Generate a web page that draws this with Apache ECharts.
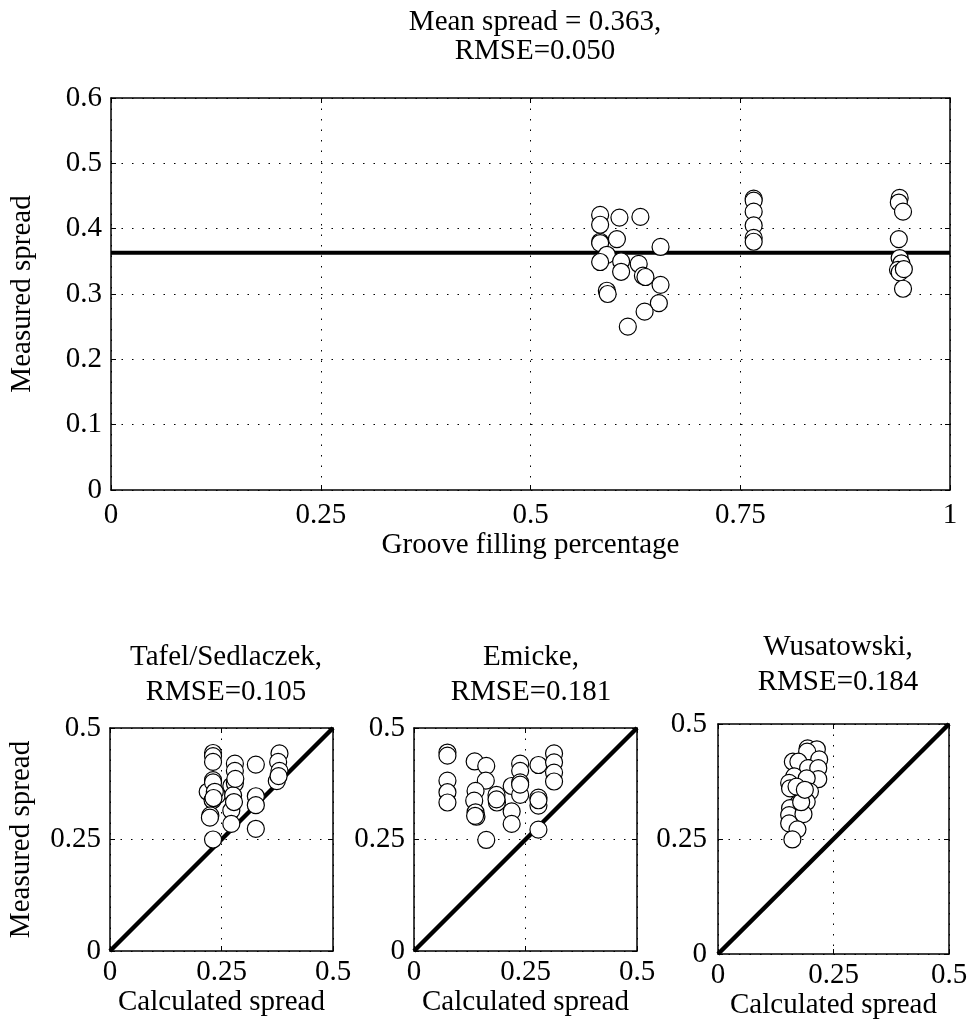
<!DOCTYPE html>
<html>
<head>
<meta charset="utf-8">
<script src="https://cdn.jsdelivr.net/npm/echarts@6/dist/echarts.min.js"></script>
<style>
  html, body { margin: 0; padding: 0; background: #fff; }
  #chart { width: 971px; height: 1030px; }
</style>
</head>
<body>
<div id="chart"></div>
<script>
// groove filling vs measured spread
const fillX = [0.583, 0.606, 0.631, 0.583, 0.583, 0.583, 0.603, 0.655, 0.591, 0.583, 0.608,
  0.608, 0.629, 0.634, 0.637, 0.655, 0.591, 0.592, 0.653, 0.636, 0.616,
  0.766, 0.766, 0.766, 0.766, 0.766, 0.766,
  0.940, 0.939, 0.944, 0.939, 0.940, 0.942, 0.938, 0.940, 0.945, 0.944];
const fillY = [0.421, 0.417, 0.418, 0.406, 0.380, 0.378, 0.384, 0.372, 0.360, 0.349, 0.350,
  0.334, 0.346, 0.328, 0.326, 0.314, 0.305, 0.300, 0.286, 0.273, 0.250,
  0.446, 0.443, 0.426, 0.405, 0.386, 0.380,
  0.447, 0.440, 0.426, 0.384, 0.355, 0.347, 0.337, 0.333, 0.338, 0.308];
const meanSpread = 0.363;

// Tafel/Sedlaczek
const tafelX = [0.231, 0.231, 0.231, 0.280, 0.280, 0.327, 0.380, 0.377, 0.380, 0.374, 0.231,
  0.272, 0.280, 0.219, 0.240, 0.230, 0.276, 0.327, 0.327, 0.225, 0.224, 0.272, 0.272,
  0.327, 0.231, 0.231, 0.235, 0.281, 0.378, 0.278, 0.232];
const tafelY = [0.444, 0.437, 0.424, 0.420, 0.404, 0.418, 0.443, 0.424, 0.404, 0.381, 0.383,
  0.370, 0.376, 0.357, 0.349, 0.338, 0.349, 0.347, 0.327, 0.304, 0.299, 0.315, 0.285,
  0.274, 0.250, 0.378, 0.357, 0.386, 0.392, 0.334, 0.343];

// Emicke
const emickeX = [0.075, 0.075, 0.075, 0.075, 0.075, 0.136, 0.162, 0.161, 0.138, 0.135, 0.138,
  0.140, 0.162, 0.185, 0.186, 0.219, 0.219, 0.219, 0.238, 0.238, 0.238, 0.238, 0.279,
  0.279, 0.279, 0.279, 0.314, 0.314, 0.314, 0.314, 0.185, 0.137, 0.238, 0.279];
const emickeY = [0.445, 0.438, 0.382, 0.356, 0.333, 0.425, 0.415, 0.382, 0.359, 0.337, 0.311,
  0.301, 0.249, 0.350, 0.333, 0.370, 0.313, 0.285, 0.420, 0.404, 0.378, 0.350, 0.417,
  0.344, 0.326, 0.272, 0.443, 0.423, 0.400, 0.380, 0.340, 0.303, 0.373, 0.338];

// Wusatowski
const wusaX = [0.194, 0.214, 0.193, 0.219, 0.162, 0.174, 0.195, 0.217, 0.165, 0.217, 0.154,
  0.192, 0.156, 0.199, 0.185, 0.192, 0.173, 0.156, 0.154, 0.185, 0.154, 0.172, 0.161,
  0.180, 0.170, 0.188];
const wusaY = [0.447, 0.445, 0.440, 0.423, 0.418, 0.418, 0.404, 0.404, 0.386, 0.380, 0.372,
  0.382, 0.360, 0.353, 0.342, 0.331, 0.326, 0.317, 0.302, 0.304, 0.284, 0.271, 0.249,
  0.330, 0.364, 0.357];

const titles = ['Mean spread = 0.363,\nRMSE=0.050', 'Tafel/Sedlaczek,\nRMSE=0.105',
  'Emicke,\nRMSE=0.181', 'Wusatowski,\nRMSE=0.184'];

const font = 'Liberation Serif';
const fs = 29;

const zip = (xs, ys) => xs.map((x, i) => [x, ys[i]]);

const grids = [
  { left: 110, top: 98, width: 840, height: 392 },
  { left: 110, top: 728, width: 223, height: 223 },
  { left: 414, top: 728, width: 223, height: 223 },
  { left: 718, top: 724, width: 231, height: 230 }
];

function mainAxis(gridIndex, min, max, interval, name, nameGap, margin) {
  return {
    gridIndex, min, max, interval, type: 'value',
    name, nameLocation: 'middle', nameGap,
    nameTextStyle: { fontFamily: font, fontSize: fs, color: '#000' },
    axisLine: { show: true, onZero: false, lineStyle: { color: '#000', width: 1.5 } },
    axisTick: { show: true, inside: true, length: 5, lineStyle: { color: '#000' } },
    axisLabel: { fontFamily: font, fontSize: fs, color: '#000', margin },
    splitLine: { show: true, lineStyle: { color: '#000', width: 1, type: [1.5, 9] } }
  };
}

function boxAxis(gridIndex, min, max, interval, position) {
  return {
    gridIndex, min, max, interval, type: 'value', position,
    axisLine: { show: true, onZero: false, lineStyle: { color: '#000', width: 1.5 } },
    axisTick: { show: true, inside: true, length: 5, lineStyle: { color: '#000' } },
    axisLabel: { show: false },
    splitLine: { show: false }
  };
}

const xAxis = [
  mainAxis(0, 0, 1, 0.25, 'Groove filling percentage', 40, 11), boxAxis(0, 0, 1, 0.25, 'top'),
  mainAxis(1, 0, 0.5, 0.25, 'Calculated spread', 36, 7), boxAxis(1, 0, 0.5, 0.25, 'top'),
  mainAxis(2, 0, 0.5, 0.25, 'Calculated spread', 36, 7), boxAxis(2, 0, 0.5, 0.25, 'top'),
  mainAxis(3, 0, 0.5, 0.25, 'Calculated spread', 36, 7), boxAxis(3, 0, 0.5, 0.25, 'top')
];
const yAxis = [
  mainAxis(0, 0, 0.6, 0.1, 'Measured spread', 74, 9), boxAxis(0, 0, 0.6, 0.1, 'right'),
  mainAxis(1, 0, 0.5, 0.25, 'Measured spread', 74, 9), boxAxis(1, 0, 0.5, 0.25, 'right'),
  mainAxis(2, 0, 0.5, 0.25, '', 74, 9), boxAxis(2, 0, 0.5, 0.25, 'right'),
  mainAxis(3, 0, 0.5, 0.25, '', 74, 11), boxAxis(3, 0, 0.5, 0.25, 'right')
];

function dots(i, data) {
  return {
    type: 'scatter', xAxisIndex: i * 2, yAxisIndex: i * 2, data, z: 3,
    symbol: 'circle', symbolSize: 17, silent: true,
    itemStyle: { color: '#fff', borderColor: '#000', borderWidth: 1.2, opacity: 1 }
  };
}
function thick(i, data, width) {
  return {
    type: 'line', xAxisIndex: i * 2, yAxisIndex: i * 2, data, z: 2,
    showSymbol: false, symbol: 'none', silent: true,
    lineStyle: { color: '#000', width }
  };
}

const option = {
  animation: false,
  backgroundColor: '#fff',
  title: [
    { text: titles[0], left: 530, top: 3, textAlign: 'center' },
    { text: titles[1], left: 221, top: 635, textAlign: 'center' },
    { text: titles[2], left: 526, top: 635, textAlign: 'center' },
    { text: titles[3], left: 833, top: 625, textAlign: 'center' }
  ].map((t, i) => Object.assign(t, {
    textStyle: { fontFamily: font, fontSize: fs, fontWeight: 'normal', color: '#000', lineHeight: i ? 35 : 29 }
  })),
  grid: grids,
  xAxis,
  yAxis,
  series: [
    thick(0, [[0, meanSpread], [1, meanSpread]], 4),
    dots(0, zip(fillX, fillY)),
    thick(1, [[0, 0], [0.5, 0.5]], 4.5),
    dots(1, zip(tafelX, tafelY)),
    thick(2, [[0, 0], [0.5, 0.5]], 4.5),
    dots(2, zip(emickeX, emickeY)),
    thick(3, [[0, 0], [0.5, 0.5]], 4.5),
    dots(3, zip(wusaX, wusaY))
  ]
};

const chart = echarts.init(document.getElementById('chart'), null, { renderer: 'canvas' });
chart.setOption(option);
</script>
</body>
</html>
